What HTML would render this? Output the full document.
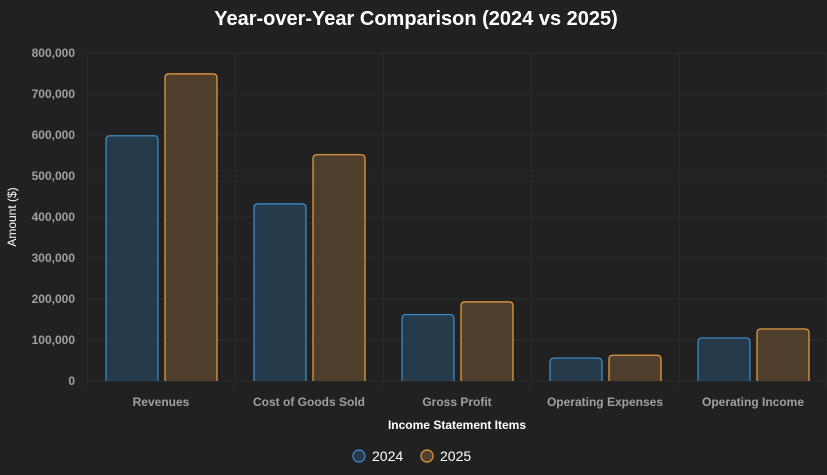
<!DOCTYPE html>
<html><head><meta charset="utf-8"><style>
html,body{margin:0;padding:0;background:#212121;}
svg{display:block;font-family:"Liberation Sans",Arial,sans-serif;}
</style></head><body>
<svg id="chart" width="827" height="475" viewBox="0 0 827 475">
<rect x="0" y="0" width="827" height="475" fill="#212121"/>
<text x="416" y="25" text-anchor="middle" font-size="20" font-weight="bold" fill="#ffffff">Year-over-Year Comparison (2024 vs 2025)</text>
<g id="grid"></g>
<g id="bars"></g>
<g id="axes"></g>
<text transform="translate(16,217) rotate(-90)" text-anchor="middle" font-size="12" fill="#ffffff">Amount ($)</text>
<text x="457" y="429" text-anchor="middle" font-size="12" font-weight="bold" fill="#ffffff">Income Statement Items</text>
<g>
<circle cx="359" cy="456" r="6" fill="#253a4a" stroke="#3c93d3" stroke-width="1.2"/>
<text x="372" y="461" font-size="14" fill="#ffffff">2024</text>
</g>
<g>
<circle cx="427" cy="456" r="6" fill="#4f3f2c" stroke="#f0a040" stroke-width="1.2"/>
<text x="440" y="461" font-size="14" fill="#ffffff">2025</text>
</g>
</svg>
<script>
const categories = ["Revenues","Cost of Goods Sold","Gross Profit","Operating Expenses","Operating Income"];
const values2024 = [598000,432000,162000,56000,105000];
const values2025 = [749000,552000,193000,63000,127000];
const yTicks = [0,100000,200000,300000,400000,500000,600000,700000,800000];

const NS="http://www.w3.org/2000/svg";
const plotLeft=87,plotRight=827,plotTop=53,plotBottom=381,yMax=800000;
const band=(plotRight-plotLeft)/categories.length;
const yScale=v=>plotBottom-(v/yMax)*(plotBottom-plotTop);
const xBand=i=>plotLeft+i*band;
function mk(tag,attrs,parent){const e=document.createElementNS(NS,tag);for(const k in attrs)e.setAttribute(k,attrs[k]);parent.appendChild(e);return e;}
const grid=document.getElementById('grid'),bars=document.getElementById('bars'),axes=document.getElementById('axes');
yTicks.forEach(t=>{
  const l=mk('line',{x1:plotLeft,x2:plotRight,y1:yScale(t),y2:yScale(t),stroke:'#2c2c2c','stroke-width':1},grid);
  
  
  const tx=mk('text',{x:plotLeft-12,y:yScale(t)+4,'text-anchor':'end','font-size':12,'font-weight':'bold',fill:'#a0a0a0'},axes);
  tx.textContent=t.toLocaleString('en-US');
  
  
});
for(let i=0;i<=categories.length;i++){
  const l=mk('line',{x1:xBand(i),x2:xBand(i),y1:plotTop,y2:plotBottom+8,stroke:'#2c2c2c','stroke-width':1},grid);
  
  
}
const bw=52,off=19,gap=7;
categories.forEach((c,i)=>{
  const x0=xBand(i)+off;
  [[values2024,'#253a4a','#3c93d3',0],[values2025,'#4f3f2c','#f0a040',1]].forEach(([arr,fill,stroke,k])=>{
    const v=arr[i];const bx=x0+k*(bw+gap);const by=yScale(v);
    const r=mk('path',{d:`M${bx},${plotBottom} V${by+4} Q${bx},${by} ${bx+4},${by} H${bx+bw-4} Q${bx+bw},${by} ${bx+bw},${by+4} V${plotBottom}`,fill:fill,stroke:stroke,'stroke-width':1.2},bars);
    
    
  });
  const t=mk('text',{x:xBand(i)+band/2,y:406,'text-anchor':'middle','font-size':12,'font-weight':'bold',fill:'#a0a0a0'},axes);
  t.textContent=c;
  
  
});
</script>
</body></html>
